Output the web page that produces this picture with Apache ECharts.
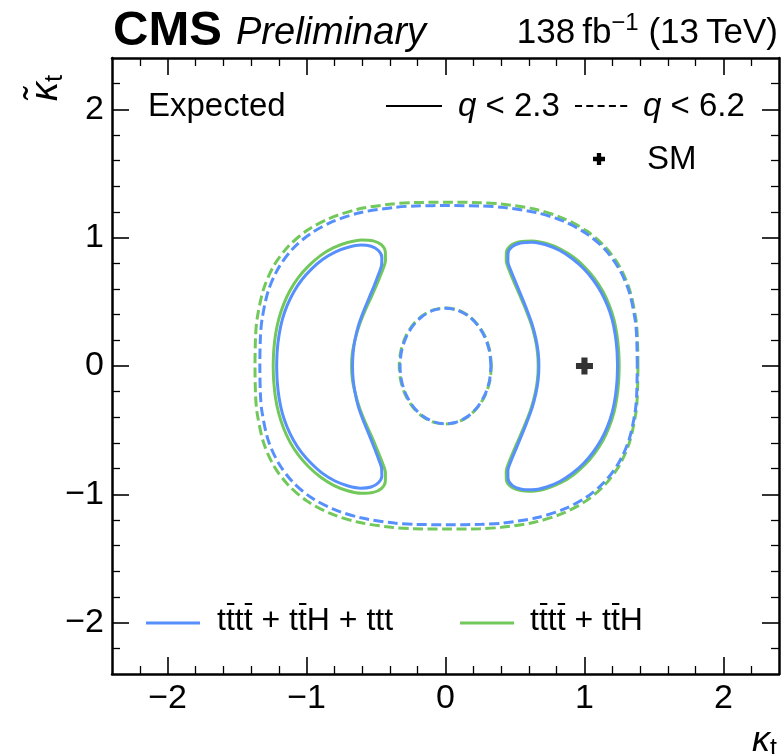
<!DOCTYPE html>
<html><head><meta charset="utf-8">
<script src="https://cdn.jsdelivr.net/npm/echarts@6/dist/echarts.min.js"></script>
<style>html,body{margin:0;padding:0;background:#fff}#c{width:782px;height:754px}</style>
</head><body><div id="c"></div>
<script>
// ---------------- data ----------------
const xRange = [-2.4, 2.4];
const yRange = [-2.4, 2.4];
const majorTicks = [-2, -1, 0, 1, 2];
const minorTicks = [-2.2, -1.8, -1.6, -1.4, -1.2, -0.8, -0.6, -0.4, -0.2, 0.2, 0.4, 0.6, 0.8, 1.2, 1.4, 1.6, 1.8, 2.2];
const tickLabels = ['\u22122', '\u22121', '0', '1', '2'];

// tttt + ttH + ttt : q < 2.3 (solid)
const blueSolidLeft = [[-1.215,0.0],[-1.211,0.12],[-1.198,0.24],[-1.175,0.36],[-1.14,0.47],[-1.093,0.575],[-1.035,0.67],[-0.965,0.755],[-0.885,0.83],[-0.795,0.888],[-0.70,0.925],[-0.61,0.942],[-0.535,0.933],[-0.483,0.90],[-0.458,0.848],[-0.46,0.785],[-0.48,0.72],[-0.51,0.635],[-0.55,0.53],[-0.592,0.42],[-0.628,0.31],[-0.652,0.20],[-0.665,0.10],[-0.669,0.0],
  [-0.665,-0.10],[-0.652,-0.20],[-0.628,-0.315],[-0.592,-0.425],[-0.55,-0.535],[-0.51,-0.645],[-0.48,-0.73],[-0.46,-0.795],[-0.458,-0.858],[-0.483,-0.91],[-0.535,-0.943],[-0.61,-0.952],[-0.70,-0.935],[-0.795,-0.896],[-0.885,-0.837],[-0.965,-0.76],[-1.035,-0.675],[-1.093,-0.58],[-1.14,-0.475],[-1.175,-0.365],[-1.198,-0.245],[-1.211,-0.12],[-1.215,0.0]];
const blueSolidRight = [[1.238,0.0],[1.234,0.12],[1.222,0.24],[1.20,0.36],[1.166,0.47],[1.12,0.575],[1.062,0.672],[0.993,0.76],[0.913,0.836],[0.822,0.90],[0.722,0.945],[0.625,0.965],[0.54,0.958],[0.48,0.93],[0.45,0.878],[0.449,0.815],[0.468,0.75],[0.50,0.665],[0.54,0.56],[0.583,0.445],[0.622,0.33],[0.65,0.215],[0.667,0.105],[0.672,0.0],
  [0.667,-0.105],[0.65,-0.215],[0.622,-0.33],[0.583,-0.445],[0.54,-0.56],[0.50,-0.665],[0.468,-0.75],[0.449,-0.815],[0.45,-0.878],[0.48,-0.93],[0.54,-0.958],[0.625,-0.965],[0.722,-0.945],[0.822,-0.90],[0.913,-0.836],[0.993,-0.76],[1.062,-0.672],[1.12,-0.575],[1.166,-0.47],[1.20,-0.36],[1.222,-0.24],[1.234,-0.12],[1.238,0.0]];
// q < 6.2 (dashed)
const blueDashOuter = [[1.380,0.0],[1.376,0.219],[1.365,0.358],[1.321,0.581],[1.247,0.762],[1.145,0.912],[1.013,1.033],[0.850,1.128],[0.653,1.196],[0.411,1.236],[0.260,1.247],[0.022,1.25],[-0.216,1.247],[-0.367,1.236],[-0.609,1.196],[-0.806,1.128],[-0.969,1.033],[-1.101,0.912],[-1.203,0.762],[-1.277,0.581],[-1.321,0.358],[-1.332,0.219],[-1.336,0.0],
  [-1.332,-0.217],[-1.321,-0.354],[-1.277,-0.575],[-1.203,-0.754],[-1.101,-0.902],[-0.969,-1.023],[-0.806,-1.116],[-0.609,-1.183],[-0.367,-1.224],[-0.216,-1.234],[0.022,-1.237],[0.260,-1.234],[0.411,-1.224],[0.653,-1.183],[0.850,-1.116],[1.013,-1.023],[1.145,-0.902],[1.247,-0.754],[1.321,-0.575],[1.365,-0.354],[1.376,-0.217],[1.380,0.0]];
const blueDashInner = [[0.327,0.0],[0.316,0.117],[0.283,0.225],[0.231,0.318],[0.164,0.39],[0.085,0.435],[0.0,0.45],[-0.085,0.435],[-0.164,0.39],[-0.231,0.318],[-0.283,0.225],[-0.316,0.117],[-0.327,0.0],[-0.316,-0.117],[-0.283,-0.225],[-0.231,-0.318],[-0.164,-0.39],[-0.085,-0.435],[0.0,-0.45],[0.085,-0.435],[0.164,-0.39],[0.231,-0.318],[0.283,-0.225],[0.316,-0.117],[0.327,0.0]];

// tttt + ttH : q < 2.3 (solid)
const greenSolidLeft = [[-1.24,0.0],[-1.236,0.12],[-1.223,0.245],[-1.20,0.365],[-1.165,0.48],[-1.118,0.59],[-1.058,0.69],[-0.985,0.78],[-0.90,0.86],[-0.805,0.922],[-0.705,0.962],[-0.605,0.982],[-0.52,0.975],[-0.462,0.945],[-0.433,0.89],[-0.432,0.825],[-0.45,0.755],[-0.483,0.665],[-0.527,0.555],[-0.575,0.44],[-0.618,0.325],[-0.65,0.21],[-0.67,0.105],[-0.676,0.0],
  [-0.67,-0.105],[-0.65,-0.21],[-0.618,-0.33],[-0.575,-0.445],[-0.527,-0.56],[-0.483,-0.675],[-0.45,-0.765],[-0.432,-0.835],[-0.433,-0.90],[-0.462,-0.955],[-0.52,-0.985],[-0.605,-0.992],[-0.705,-0.972],[-0.805,-0.93],[-0.90,-0.865],[-0.985,-0.785],[-1.058,-0.695],[-1.118,-0.595],[-1.165,-0.485],[-1.20,-0.37],[-1.223,-0.25],[-1.236,-0.12],[-1.24,0.0]];
const greenSolidRight = [[1.25,0.0],[1.246,0.12],[1.234,0.242],[1.212,0.363],[1.178,0.475],[1.132,0.582],[1.073,0.68],[1.003,0.77],[0.922,0.847],[0.83,0.91],[0.727,0.955],[0.625,0.975],[0.535,0.968],[0.47,0.94],[0.438,0.885],[0.437,0.82],[0.456,0.752],[0.489,0.665],[0.531,0.56],[0.576,0.445],[0.616,0.33],[0.645,0.215],[0.662,0.105],[0.667,0.0],
  [0.662,-0.105],[0.645,-0.215],[0.616,-0.33],[0.576,-0.445],[0.531,-0.56],[0.489,-0.665],[0.456,-0.752],[0.437,-0.82],[0.438,-0.885],[0.47,-0.94],[0.535,-0.968],[0.625,-0.975],[0.727,-0.955],[0.83,-0.91],[0.922,-0.847],[1.003,-0.77],[1.073,-0.68],[1.132,-0.582],[1.178,-0.475],[1.212,-0.363],[1.234,-0.242],[1.246,-0.12],[1.25,0.0]];
// q < 6.2 (dashed)
const greenDashOuter = [[1.385,0.0],[1.381,0.224],[1.370,0.366],[1.325,0.593],[1.251,0.778],[1.146,0.931],[1.012,1.055],[0.847,1.151],[0.647,1.221],[0.402,1.262],[0.248,1.273],[0.007,1.276],[-0.234,1.273],[-0.388,1.262],[-0.633,1.221],[-0.833,1.151],[-0.998,1.055],[-1.132,0.931],[-1.237,0.778],[-1.311,0.593],[-1.356,0.366],[-1.367,0.224],[-1.371,0.0],
  [-1.367,-0.223],[-1.356,-0.364],[-1.311,-0.591],[-1.237,-0.775],[-1.132,-0.927],[-0.998,-1.051],[-0.833,-1.147],[-0.633,-1.216],[-0.388,-1.257],[-0.234,-1.268],[0.007,-1.271],[0.248,-1.268],[0.402,-1.257],[0.647,-1.216],[0.847,-1.147],[1.012,-1.051],[1.146,-0.927],[1.251,-0.775],[1.325,-0.591],[1.370,-0.364],[1.381,-0.223],[1.385,0.0]];
const greenDashInner = [[0.330,0.0],[0.319,0.117],[0.286,0.226],[0.234,0.319],[0.166,0.391],[0.086,0.437],[0.0,0.452],[-0.087,0.437],[-0.167,0.392],[-0.235,0.32],[-0.288,0.227],[-0.321,0.118],[-0.333,0.0],[-0.321,-0.118],[-0.288,-0.227],[-0.235,-0.32],[-0.167,-0.392],[-0.087,-0.437],[0.0,-0.452],[0.086,-0.437],[0.166,-0.391],[0.234,-0.319],[0.286,-0.226],[0.319,-0.117],[0.330,0.0]];

// Standard Model point
const smPoint = [[1, 0]];

// ---------------- style ----------------
const BLUE = '#5790fc';
const GREEN = '#72c85a';
const FAM = '"Liberation Sans", Arial, Helvetica, sans-serif';
const font = (size, style, weight) => `${style || 'normal'} ${weight || 'normal'} ${size}px ${FAM}`;
const PLUS = 'path://M3.2,0 H6.8 V3.2 H10 V6.8 H6.8 V10 H3.2 V6.8 H0 V3.2 H3.2 Z';

const mctx = document.createElement('canvas').getContext('2d');
function tw(t, f) { mctx.font = f; return mctx.measureText(t).width; }

// lays out text pieces horizontally; returns graphic elements
function row(parts, x, y, align) {
  const ws = parts.map(p => tw(p.t, p.f));
  const total = ws.reduce((a, b) => a + b, 0);
  let cx = align === 'right' ? x - total : x;
  const out = [];
  parts.forEach((p, i) => {
    out.push({ type: 'text', silent: true, x: cx, y: y + (p.dy || 0),
      style: { text: p.t, font: p.f, fill: '#000', textAlign: 'left', textVerticalAlign: 'middle' } });
    if (p.bar) {
      out.push({ type: 'line', silent: true,
        shape: { x1: cx + ws[i] * 0.12, y1: y - p.bar, x2: cx + ws[i] * 0.95, y2: y - p.bar },
        style: { stroke: '#000', lineWidth: 2 } });
    }
    cx += ws[i];
  });
  return out;
}

function plusPoly(cx, cy, s) {
  const a = s / 2, b = s * 0.18;
  return { type: 'polygon', silent: true,
    shape: { points: [[cx - b, cy - a], [cx + b, cy - a], [cx + b, cy - b], [cx + a, cy - b], [cx + a, cy + b], [cx + b, cy + b], [cx + b, cy + a], [cx - b, cy + a], [cx - b, cy + b], [cx - a, cy + b], [cx - a, cy - b], [cx - b, cy - b]] },
    style: { fill: '#000' } };
}

const fmt = v => { const i = majorTicks.findIndex(m => Math.abs(m - v) < 1e-6); return i >= 0 ? tickLabels[i] : ''; };

function axes(dim, pos, major, showLabel) {
  const range = dim === 'x' ? xRange : yRange;
  return {
    type: 'value', position: pos, min: range[0], max: range[1],
    axisLine: { show: major, onZero: false, lineStyle: { color: '#000', width: 2.5 } },
    axisTick: { show: true, inside: true, length: major ? 17 : 8,
      customValues: major ? majorTicks : minorTicks,
      lineStyle: { color: '#000', width: major ? 1.6 : 1.3 } },
    axisLabel: { show: showLabel, customValues: majorTicks, formatter: fmt,
      fontSize: 34, fontFamily: FAM, color: '#000', margin: 8 },
    splitLine: { show: false }, minorTick: { show: false }, minorSplitLine: { show: false }
  };
}

function contour(data, color, dashed, z) {
  return { type: 'line', data: data, xAxisIndex: 0, yAxisIndex: 0, showSymbol: false, symbol: 'none',
    smooth: 0.3, silent: true, z: z,
    lineStyle: { color: color, width: 3, type: dashed ? [10, 4.5] : 'solid', cap: 'butt' } };
}

// ---------------- graphic (labels / legend) ----------------
const g = [];
const T = 33;
g.push(...row([{ t: 'CMS', f: font(49, 'normal', 'bold') }], 113, 31));
g.push(...row([{ t: 'Preliminary', f: font(38, 'italic') }], 236, 33));
g.push(...row([
  { t: '138\u2009fb', f: font(35) },
  { t: '\u22121', f: font(24), dy: -10 },
  { t: ' (13\u2009TeV)', f: font(35) }
], 778, 33, 'right'));

g.push(...row([{ t: 'Expected', f: font(T) }], 148, 107));
g.push({ type: 'line', silent: true, shape: { x1: 386, y1: 106, x2: 442, y2: 106 }, style: { stroke: '#000', lineWidth: 2 } });
g.push(...row([{ t: 'q', f: font(T, 'italic') }, { t: ' < 2.3', f: font(T) }], 458, 107));
g.push({ type: 'line', silent: true, shape: { x1: 575, y1: 106, x2: 628, y2: 106 }, style: { stroke: '#000', lineWidth: 2, lineDash: [7, 4.3] } });
g.push(...row([{ t: 'q', f: font(T, 'italic') }, { t: ' < 6.2', f: font(T) }], 643, 107));
g.push(plusPoly(599, 159, 12));
g.push(...row([{ t: 'SM', f: font(T) }], 647, 160));

// bottom legend
const lf = font(32);
const B = 17;
g.push({ type: 'line', silent: true, shape: { x1: 146, y1: 623, x2: 200, y2: 623 }, style: { stroke: BLUE, lineWidth: 3 } });
g.push(...row([
  { t: 't', f: lf }, { t: 't', f: lf, bar: B }, { t: 't', f: lf }, { t: 't', f: lf, bar: B },
  { t: ' + ', f: lf }, { t: 't', f: lf }, { t: 't', f: lf, bar: B }, { t: 'H + ttt', f: lf }
], 217, 621));
g.push({ type: 'line', silent: true, shape: { x1: 460, y1: 623, x2: 514, y2: 623 }, style: { stroke: GREEN, lineWidth: 3 } });
g.push(...row([
  { t: 't', f: lf }, { t: 't', f: lf, bar: B }, { t: 't', f: lf }, { t: 't', f: lf, bar: B },
  { t: ' + ', f: lf }, { t: 't', f: lf }, { t: 't', f: lf, bar: B }, { t: 'H', f: lf }
], 530, 621));

// axis titles
g.push(...row([{ t: '\u03ba', f: font(36, 'italic') }, { t: 't', f: font(25), dy: 8 }], 777, 741, 'right'));
g.push({ type: 'group', x: 46, y: 101, rotation: Math.PI / 2, silent: true,
  children: row([{ t: '\u03ba\u0303', f: font(38, 'italic') }, { t: 't', f: font(26), dy: 9 }], 0, 0) });

// ---------------- chart ----------------
const chart = echarts.init(document.getElementById('c'), null, { renderer: 'canvas' });
chart.setOption({
  animation: false,
  backgroundColor: '#fff',
  grid: { left: 112, right: 3, top: 58, bottom: 80, containLabel: false, outerBoundsMode: 'none' },
  xAxis: [axes('x', 'bottom', true, true), axes('x', 'bottom', false, false), axes('x', 'top', true, false), axes('x', 'top', false, false)],
  yAxis: [axes('y', 'left', true, true), axes('y', 'left', false, false), axes('y', 'right', true, false), axes('y', 'right', false, false)],
  series: [
    contour(greenDashOuter, GREEN, true, 2),
    contour(greenDashInner, GREEN, true, 2),
    contour(greenSolidLeft, GREEN, false, 2),
    contour(greenSolidRight, GREEN, false, 2),
    contour(blueDashOuter, BLUE, true, 3),
    contour(blueDashInner, BLUE, true, 3),
    contour(blueSolidLeft, BLUE, false, 3),
    contour(blueSolidRight, BLUE, false, 3),
    { type: 'scatter', data: smPoint, xAxisIndex: 0, yAxisIndex: 0, symbol: PLUS, symbolSize: 17,
      itemStyle: { color: '#000' }, z: 5, silent: true }
  ],
  graphic: { elements: g }
});
</script></body></html>
